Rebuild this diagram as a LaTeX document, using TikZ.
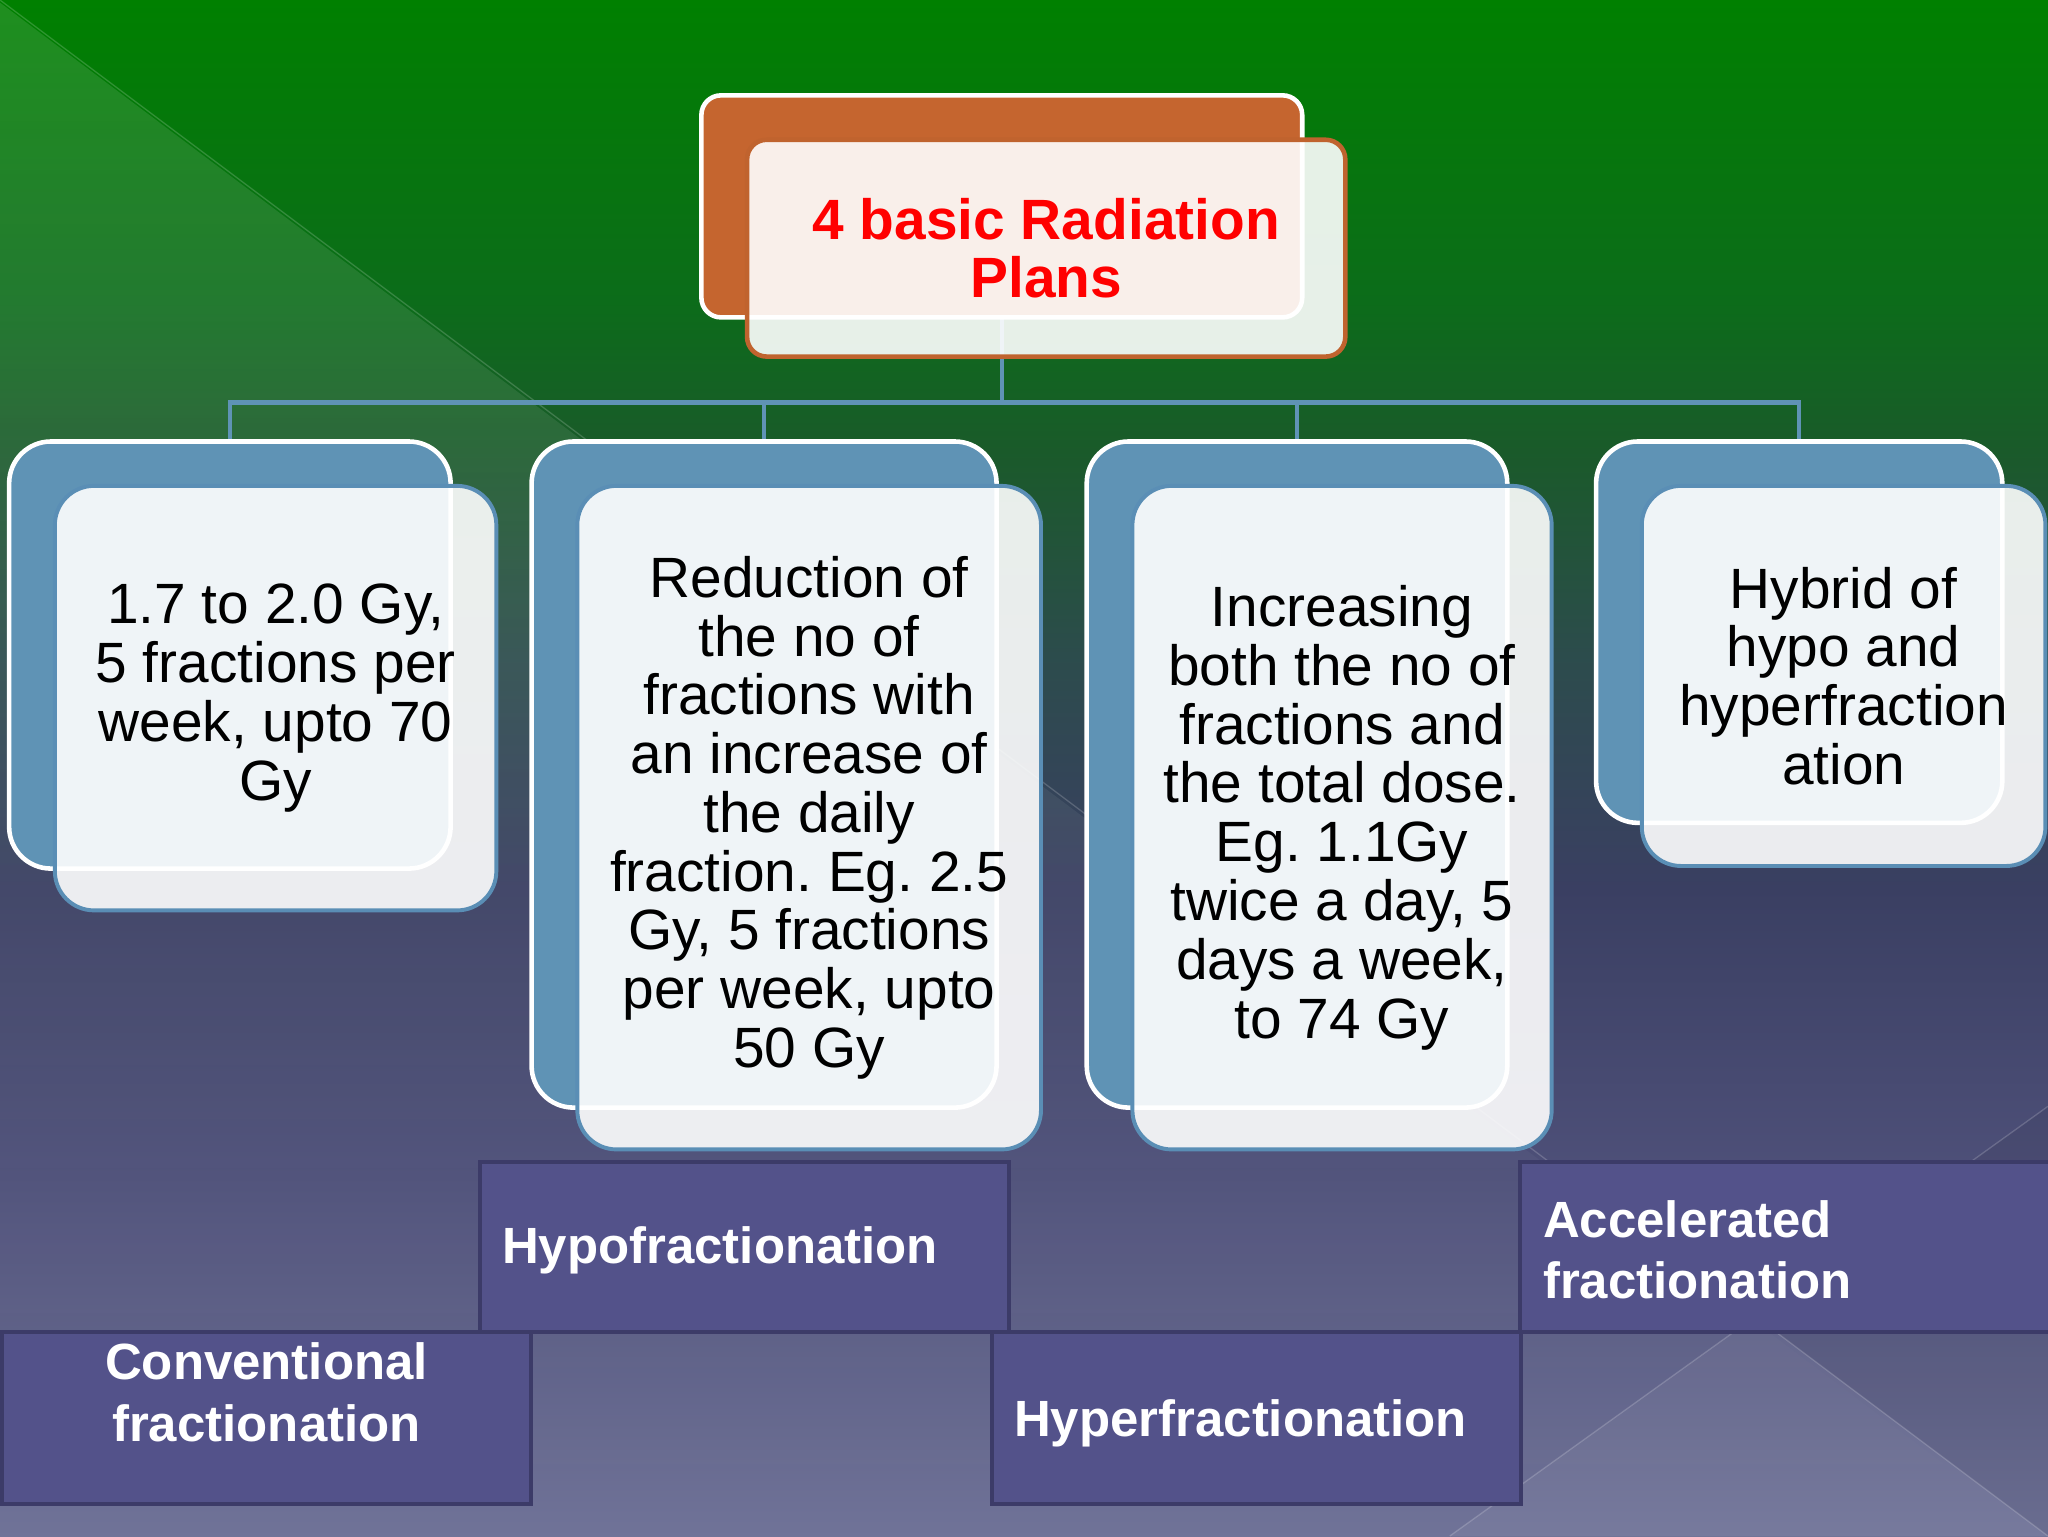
\documentclass[tikz,border=0pt]{standalone}
\usepackage{fontspec}
\setmainfont{Liberation Sans}
\frenchspacing
\usetikzlibrary{fadings}
\pgfdeclarelayer{backdrop}
\pgfdeclarelayer{wires}
\pgfsetlayers{backdrop,wires,main}
\definecolor{bg0}{HTML}{008000}
\definecolor{bg1}{HTML}{0C6C1A}
\definecolor{bg2}{HTML}{1A5A2A}
\definecolor{bg3}{HTML}{2C4C4C}
\definecolor{bg4}{HTML}{3A3F62}
\definecolor{bg5}{HTML}{4E5079}
\definecolor{bg6}{HTML}{707398}
\definecolor{orangeB}{HTML}{C5652F}
\definecolor{orangeL}{HTML}{C0632E}
\definecolor{steel}{HTML}{5F93B5}
\definecolor{steelL}{HTML}{5A8EB5}
\definecolor{purp}{HTML}{53528A}
\definecolor{purpL}{HTML}{3C3B68}
\definecolor{titlered}{HTML}{FF0000}
\begin{document}
\begin{tikzpicture}[x=1pt,y=-1pt,
  conn/.style={draw=steel, line width=3.5pt},
  topback/.style={draw=white, fill=orangeB, line width=3.5pt, rounded corners=15pt, inner sep=0pt},
  topfront/.style={draw=orangeL, fill=white, fill opacity=0.9, draw opacity=1, text opacity=1, line width=3.5pt, rounded corners=15pt, inner sep=0pt, align=center, text=titlered, font=\fontsize{43.5}{45}\selectfont\bfseries},
  childback/.style={draw=white, fill=steel, line width=3.5pt, rounded corners=32pt, inner sep=0pt},
  childfront/.style={draw=steelL, fill=white, fill opacity=0.9, draw opacity=1, text opacity=1, line width=3pt, rounded corners=30pt, inner sep=0pt, align=center, text=black, font=\fontsize{43.5}{45}\selectfont},
  labelbox/.style={draw=purpL, fill=purp, line width=3pt, inner ysep=0pt, text=white, font=\fontsize{39}{47}\selectfont\bfseries}
]
\useasboundingbox (0,0) rectangle (1568,1176);
% background
\begin{pgfonlayer}{backdrop}
\foreach \ya/\yb/\ca/\cb in {0/230/bg0/bg1, 230/345/bg1/bg2, 345/500/bg2/bg3, 500/680/bg3/bg4, 680/900/bg4/bg5, 900/1176/bg5/bg6}
  \fill[top color=\ca, bottom color=\cb] (0,\ya) rectangle (1568,{\yb+1});
\fill[white, fill opacity=0.12, path fading=south] (0,0) -- (1568,1176) -- (0,1176) -- cycle;
\fill[white, fill opacity=0.05] (1344,1008) -- (1110,1176) -- (1568,1176) -- cycle;
\fill[black, fill opacity=0.05] (1344,1008) -- (1568,1176) -- (1568,847) -- cycle;
\draw[white, draw opacity=0.18, line width=1pt] (0,0) -- (1568,1176);
\draw[white, draw opacity=0.18, line width=1pt] (1568,847) -- (1110,1176);
\end{pgfonlayer}

% back boxes
\node[topback, minimum width=460pt, minimum height=170pt] (tb) at (767,158) {};
\node[childback, minimum width=338pt, minimum height=327pt] (c1b) at (176,501.5) {};
\node[childback, minimum width=356pt, minimum height=510pt] (c2b) at (585,593) {};
\node[childback, minimum width=322pt, minimum height=510pt] (c3b) at (993,593) {};
\node[childback, minimum width=311pt, minimum height=292pt] (c4b) at (1377.5,484) {};

% connectors
\coordinate (j) at (767,308);
\begin{pgfonlayer}{wires}
\draw[conn] (tb.center) -- (tb.center |- j);
\draw[conn] (c1b.center) |- (c4b.center |- j) -- (c4b.center);
\draw[conn] (c2b.center) -- (c2b.center |- j);
\draw[conn] (c3b.center) -- (c3b.center |- j);
\end{pgfonlayer}

% front boxes
\node[topfront, minimum width=458pt, minimum height=166pt] (tf) at (801,190) {4 basic Radiation\\Plans};
\node[childfront, minimum width=338pt, minimum height=325pt] (c1f) at (211,534.5)
  {1.7 to 2.0 Gy,\\5 fractions per\\week, upto 70\\Gy};
\node[childfront, minimum width=355pt, minimum height=508pt] (c2f) at (619.5,626)
  {Reduction of\\the no of\\fractions with\\an increase of\\the daily\\fraction. Eg. 2.5\\Gy, 5 fractions\\per week, upto\\50 Gy};
\node[childfront, minimum width=321pt, minimum height=508pt] (c3f) at (1027.5,626)
  {Increasing\\both the no of\\fractions and\\the total dose.\\Eg. 1.1Gy\\twice a day, 5\\days a week,\\to 74 Gy};
\node[childfront, minimum width=309pt, minimum height=291pt] (c4f) at (1411.5,517.5)
  {Hybrid of\\hypo and\\hyperfraction\\ation};

% bottom labels
\node[labelbox, anchor=north west, inner xsep=17pt, text width=371pt, align=left, text height=78pt, text depth=52pt] (l2) at (366,888) {Hypofractionation};
\node[labelbox, anchor=north west, inner xsep=18pt, text width=370pt, align=left, text height=58pt, text depth=72pt] (l4) at (1162,888) {Accelerated\\fractionation};
\node[labelbox, anchor=north west, inner xsep=17pt, text width=371pt, align=center, text height=37pt, text depth=95pt] (l1) at (0,1018) {Conventional\\fractionation};
\node[labelbox, anchor=north west, inner xsep=17pt, text width=371pt, align=left, text height=80pt, text depth=52pt] (l3) at (758,1018) {Hyperfractionation};
\end{tikzpicture}
\end{document}
